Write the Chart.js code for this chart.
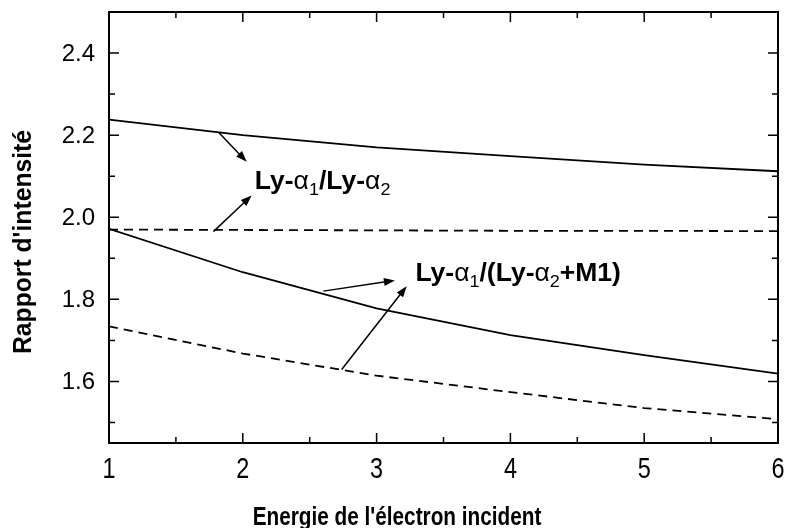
<!doctype html>
<html lang="fr">
<head>
<meta charset="utf-8">
<title>Rapport d'intensité</title>
<script src="https://cdn.jsdelivr.net/npm/chart.js"></script>
<style>
  html, body { margin: 0; padding: 0; background: #fff; }
  #wrap { width: 787px; height: 528px; }
</style>
</head>
<body>
<div id="wrap"><canvas id="myChart" width="787" height="528"></canvas></div>
<script>
// energie de l'electron incident
var energie = [1, 2, 3, 4, 5, 6];
// Ly-a1/Ly-a2
var ratioPlein = [2.238, 2.200, 2.170, 2.149, 2.128, 2.112];
var ratioTirets = [1.970, 1.969, 1.968, 1.967, 1.967, 1.966];
// Ly-a1/(Ly-a2+M1)
var ratioM1Plein = [1.972, 1.866, 1.778, 1.713, 1.664, 1.619];
var ratioM1Tirets = [1.734, 1.668, 1.614, 1.574, 1.535, 1.508];

var xTicks = [1, 2, 3, 4, 5, 6];
var xMinor = [1.5, 2.5, 3.5, 4.5, 5.5];
var yTicks = [1.6, 1.8, 2.0, 2.2, 2.4];
var yMinor = [1.5, 1.7, 1.9, 2.1, 2.3];

var titreX = "Energie de l'électron incident";
var titreY = "Rapport d'intensité";

var FONT = "'Liberation Sans', Arial, sans-serif";

function pts(ys) {
  return energie.map(function (x, i) { return { x: x, y: ys[i] }; });
}

function serie(ys, dash) {
  return {
    data: pts(ys),
    borderColor: '#000',
    borderWidth: 1.8,
    borderDash: dash,
    pointRadius: 0,
    fill: false,
    tension: 0
  };
}

// fleches (depart -> pointe), en coordonnees de donnees
var fleches = [
  [1.822, 2.206, 2.029, 2.135],
  [1.780, 1.965, 2.066, 2.053],
  [2.602, 1.820, 3.137, 1.846],
  [2.739, 1.629, 3.225, 1.832]
];

function fleche(ctx, x1, y1, x2, y2) {
  var a = Math.atan2(y2 - y1, x2 - x1);
  var L = 11, W = 4;
  ctx.beginPath();
  ctx.moveTo(x1, y1);
  ctx.lineTo(x2 - L * 0.7 * Math.cos(a), y2 - L * 0.7 * Math.sin(a));
  ctx.stroke();
  ctx.beginPath();
  ctx.moveTo(x2, y2);
  ctx.lineTo(x2 - L * Math.cos(a) + W * Math.sin(a), y2 - L * Math.sin(a) - W * Math.cos(a));
  ctx.lineTo(x2 - L * Math.cos(a) - W * Math.sin(a), y2 - L * Math.sin(a) + W * Math.cos(a));
  ctx.closePath();
  ctx.fill();
}

// texte en morceaux (indices), etire horizontalement de sx
function texteRiche(ctx, x, y, sx, parts) {
  ctx.save();
  ctx.translate(x, y);
  ctx.scale(sx, 1);
  ctx.textBaseline = 'alphabetic';
  ctx.textAlign = 'left';
  var cx = 0;
  parts.forEach(function (p) {
    ctx.font = p[1];
    ctx.fillText(p[0], cx, p[2] || 0);
    cx += ctx.measureText(p[0]).width;
  });
  ctx.restore();
}

function texteEtire(ctx, txt, x, y, sx, font, align, base) {
  ctx.save();
  ctx.translate(x, y);
  ctx.scale(sx, 1);
  ctx.font = font;
  ctx.textAlign = align;
  ctx.textBaseline = base;
  ctx.fillText(txt, 0, 0);
  ctx.restore();
}

var B = 'bold 25px ' + FONT;
var G = '25px ' + FONT;
var S = '17px ' + FONT;

var decor = {
  id: 'decor',
  afterDraw: function (chart) {
    var ctx = chart.ctx, a = chart.chartArea;
    var xs = chart.scales.x, ys = chart.scales.y;
    ctx.save();
    ctx.strokeStyle = '#000';
    ctx.fillStyle = '#000';
    ctx.lineWidth = 2;
    ctx.strokeRect(a.left, a.top, a.right - a.left, a.bottom - a.top);

    ctx.lineWidth = 1.5;
    function tx(v, len) {
      var p = xs.getPixelForValue(v);
      ctx.beginPath();
      ctx.moveTo(p, a.bottom); ctx.lineTo(p, a.bottom - len);
      ctx.moveTo(p, a.top); ctx.lineTo(p, a.top + len);
      ctx.stroke();
    }
    function ty(v, len) {
      var p = ys.getPixelForValue(v);
      ctx.beginPath();
      ctx.moveTo(a.left, p); ctx.lineTo(a.left + len, p);
      ctx.moveTo(a.right, p); ctx.lineTo(a.right - len, p);
      ctx.stroke();
    }
    xTicks.forEach(function (v) { tx(v, 10); });
    xMinor.forEach(function (v) { tx(v, 6); });
    yTicks.forEach(function (v) { ty(v, 10); });
    yMinor.forEach(function (v) { ty(v, 6); });

    // etiquettes des axes
    xTicks.forEach(function (v) {
      texteEtire(ctx, String(v), xs.getPixelForValue(v), a.bottom + 35, 0.78, '30px ' + FONT, 'center', 'alphabetic');
    });
    yTicks.forEach(function (v) {
      texteEtire(ctx, v.toFixed(1), a.left - 14, ys.getPixelForValue(v) + 1, 1, '24px ' + FONT, 'right', 'middle');
    });
    texteEtire(ctx, titreX, 397, 525, 0.83, 'bold 25px ' + FONT, 'center', 'alphabetic');
    ctx.save();
    ctx.translate(31, 242);
    ctx.rotate(-Math.PI / 2);
    ctx.scale(0.95, 1);
    ctx.font = 'bold 26px ' + FONT;
    ctx.textAlign = 'center';
    ctx.textBaseline = 'alphabetic';
    ctx.fillText(titreY, 0, 0);
    ctx.restore();

    // annotations
    ctx.lineWidth = 1.5;
    fleches.forEach(function (f) {
      fleche(ctx, xs.getPixelForValue(f[0]), ys.getPixelForValue(f[1]),
        xs.getPixelForValue(f[2]), ys.getPixelForValue(f[3]));
    });
    texteRiche(ctx, xs.getPixelForValue(2.09), ys.getPixelForValue(2.07), 1.06, [
      ['Ly-', B], ['\u03b1', G], ['1', S, 6], ['/Ly-', B], ['\u03b1', G], ['2', S, 6]
    ]);
    texteRiche(ctx, xs.getPixelForValue(3.29), ys.getPixelForValue(1.845), 1.06, [
      ['Ly-', B], ['\u03b1', G], ['1', S, 6], ['/(Ly-', B], ['\u03b1', G], ['2', S, 6], ['+M1)', B]
    ]);
    ctx.restore();
  }
};

new Chart(document.getElementById('myChart'), {
  type: 'line',
  data: {
    datasets: [
      serie(ratioPlein, []),
      serie(ratioTirets, [9, 6]),
      serie(ratioM1Plein, []),
      serie(ratioM1Tirets, [9, 6])
    ]
  },
  options: {
    responsive: false,
    animation: false,
    layout: { padding: { top: 12, right: 9, left: 0, bottom: 0 } },
    plugins: { legend: { display: false }, tooltip: { enabled: false } },
    scales: {
      x: {
        type: 'linear',
        min: 1, max: 6,
        grid: { display: false, drawTicks: false },
        border: { display: false },
        ticks: { display: false },
        afterFit: function (s) { s.height = 85; }
      },
      y: {
        min: 1.45, max: 2.5,
        grid: { display: false, drawTicks: false },
        border: { display: false },
        ticks: { display: false },
        afterFit: function (s) { s.width = 109; }
      }
    }
  },
  plugins: [decor]
});
</script>
</body>
</html>
